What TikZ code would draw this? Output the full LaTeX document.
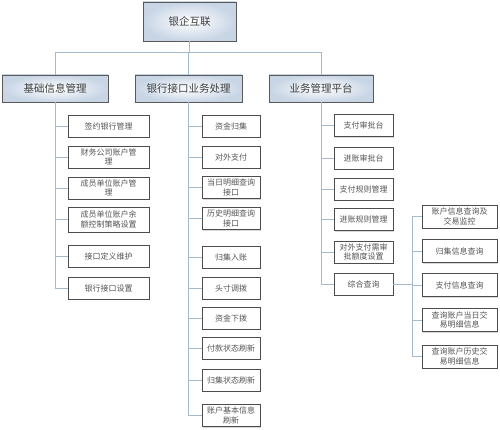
\documentclass[tikz,border=0pt]{standalone}
\usepackage{fontspec}
\setmainfont{Noto Sans CJK SC}
\usepackage{tikz}
\usetikzlibrary{positioning,shadows,calc}
\definecolor{linkblue}{HTML}{A3B9CE}
\definecolor{headblue}{HTML}{C8D5E5}
\definecolor{textgray}{HTML}{555555}
\tikzset{
  head/.style={draw=black!65, inner color=white, outer color=headblue, align=center,
               inner sep=0pt, text=black!75, font=\fontsize{10.5}{12}\selectfont,
               drop shadow={shadow xshift=1.2pt, shadow yshift=-1.2pt, fill=black!30}},
  leaf/.style={draw=black!70, fill=white, align=center, inner sep=0pt, text=textgray,
               font=\fontsize{8}{9.6}\selectfont, minimum height=22pt,
               drop shadow={shadow xshift=1.2pt, shadow yshift=-1.2pt, fill=black!30}},
  link/.style={draw=linkblue, line width=0.9pt},
}
\begin{document}
\begin{tikzpicture}[x=1pt,y=-1pt]
  \useasboundingbox (0,0) rectangle (500,430);
  % top and first level
  \node[head, minimum width=93pt, minimum height=39pt] (root) at (189.5,21.5) {银企互联};
  \node[head, minimum width=106pt, minimum height=27pt] (c1) at (55,88.5) {基础信息管理};
  \node[head, minimum width=107pt, minimum height=27pt] (c2) at (188.5,88.5) {银行接口业务处理};
  \node[head, minimum width=104pt, minimum height=27pt] (c3) at (321,88.5) {业务管理平台};
  \foreach \c in {c1,c2,c3}
    \draw[link] (root.south) -- ++(0,11) -| (\c.north);
  % column 1
  \foreach \n/\y/\t in {a1/126/签约银行管理, a2/157/{财务公司账户管\\理},
      a3/188/{成员单位账户管\\理}, a5/256/接口定义维护, a6/288/银行接口设置}
    \node[leaf, minimum width=81pt] (\n) at (108.5,\y) {\t};
  \node[leaf, minimum width=81pt, minimum height=25pt] (a4) at (108.5,219.5) {成员单位账户余\\额控制策略设置};
  \foreach \n in {a1,a2,a3,a4,a5,a6}
    \draw[link] (c1.south) |- (\n.west);
  % column 2
  \foreach \n/\y/\t in {b1/126/资金归集, b2/157/对外支付, b3/187.5/{当日明细查询\\接口},
      b4/218.5/{历史明细查询\\接口}, b5/257/归集入账, b6/288/头寸调拨, b7/318/资金下拨,
      b8/348/付款状态刷新, b9/380/归集状态刷新, b10/415.5/{账户基本信息\\刷新}}
    \node[leaf, minimum width=58pt] (\n) at (231,\y) {\t};
  \foreach \n in {b1,b2,b3,b4,b5,b6,b7,b8,b9,b10}
    \draw[link] (c2.south) |- (\n.west);
  % column 3
  \foreach \n/\y/\t in {d1/125.5/支付审批台, d2/158/进账审批台, d3/189/支付规则管理,
      d4/219.5/进账规则管理, d5/252/{对外支付需审\\批额度设置}, d6/284/综合查询}
    \node[leaf, minimum width=59pt] (\n) at (363.5,\y) {\t};
  \foreach \n in {d1,d2,d3,d4,d5,d6}
    \draw[link] (c3.south) |- (\n.west);
  % query sub-items
  \foreach \n/\y/\t in {e1/216.5/{账户信息查询及\\交易监控}, e2/251/归集信息查询,
      e3/285/支付信息查询, e4/320/{查询账户当日交\\易明细信息}, e5/356.5/{查询账户历史交\\易明细信息}}
    \node[leaf, minimum width=75pt, minimum height=23pt] (\n) at (459.5,\y) {\t};
  \coordinate (qbus) at ($(d6.east)+(19,0)$);
  \draw[link] (d6.east) -- (qbus);
  \foreach \n in {e1,e2,e3,e4,e5}
    \draw[link] (qbus) |- (\n.west);
\end{tikzpicture}
\end{document}
